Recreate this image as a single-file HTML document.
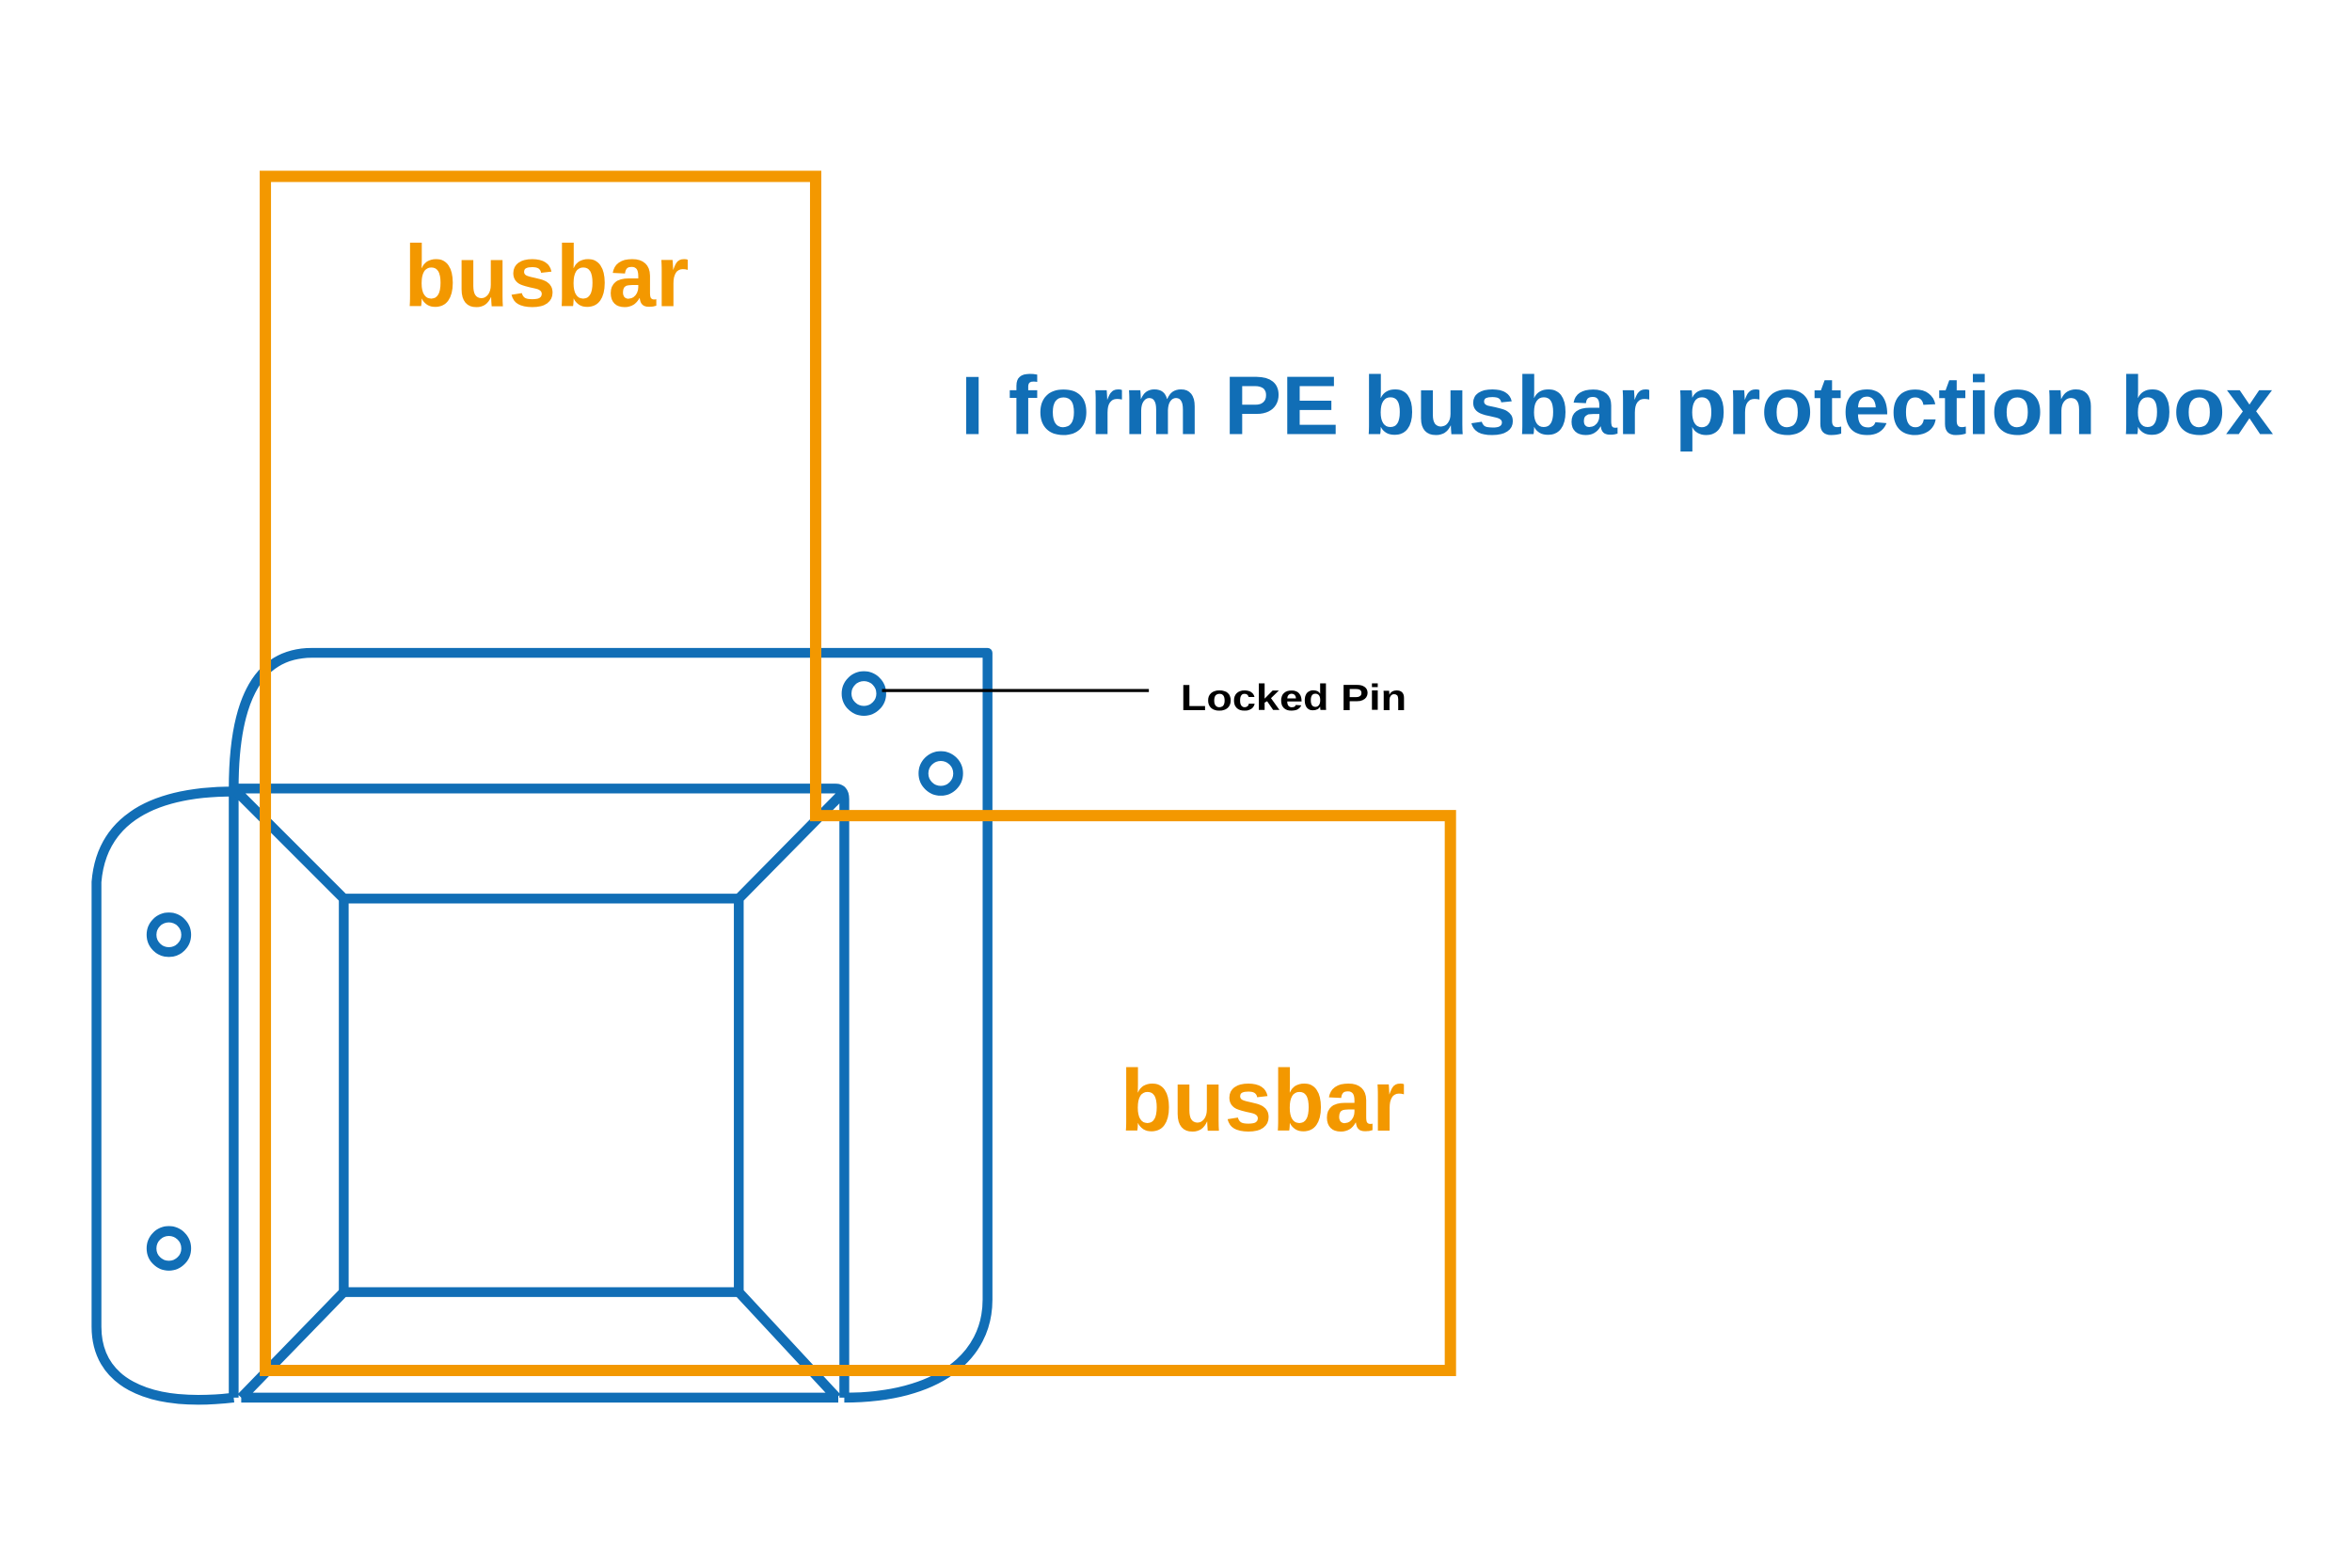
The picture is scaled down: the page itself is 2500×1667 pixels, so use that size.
<!DOCTYPE html>
<html><head><meta charset="utf-8"><style>
html,body{margin:0;padding:0;background:#fff;}
svg{display:block;}
</style></head><body>
<svg width="2500" height="1667" viewBox="0 0 1560 1040" preserveAspectRatio="none" xmlns="http://www.w3.org/2000/svg">
<rect width="1560" height="1040" fill="#fff"/>
<g fill="none" stroke="#116eb6" stroke-width="6.5" stroke-linejoin="round">
  <path d="M155,523 C155,470 168,433 207,433 L655,433 L655,862 C655,900 622,927 560,927"/>
  <path d="M155,525 C95,525 67,548 64,585 L64,880 C64,915 95,934 155,927"/>
  <path d="M155,927 L155,523 L554,523 Q560,523 560,530 L560,927"/>
  <path d="M160,927 L556,927"/>
  <rect x="228" y="596" width="262" height="261"/>
  <path d="M157,525 L228,596 M558,527 L490,596 M228,857 L160,927 M490,857 L555,927"/>
  <circle cx="573" cy="460" r="11.5"/>
  <circle cx="624" cy="513" r="11.5"/>
  <circle cx="112" cy="620" r="11.5"/>
  <circle cx="112" cy="828" r="11.5"/>
</g>
<path d="M176,117 L541,117 L541,541 L962,541 L962,909 L176,909 Z" fill="none" stroke="#f39800" stroke-width="7.5"/>
<line x1="585" y1="458" x2="762" y2="458" stroke="#000" stroke-width="2"/>
<g font-family="Liberation Sans, Arial, sans-serif" font-weight="bold">
  <text x="268" y="203" font-size="58" fill="#f39800" textLength="189" lengthAdjust="spacingAndGlyphs">busbar</text>
  <text x="743" y="750" font-size="58" fill="#f39800" textLength="189" lengthAdjust="spacingAndGlyphs">busbar</text>
  <text x="637" y="288" font-size="55" fill="#116eb6" textLength="871" lengthAdjust="spacingAndGlyphs">I form PE busbar protection box</text>
  <text x="783" y="471" font-size="24" fill="#000" textLength="150" lengthAdjust="spacingAndGlyphs">Locked Pin</text>
</g>
</svg>
</body></html>
